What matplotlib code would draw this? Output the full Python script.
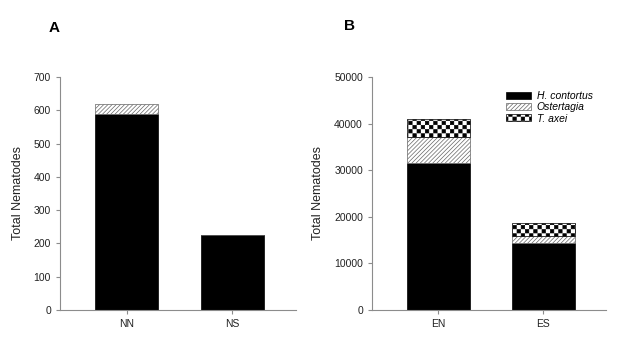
import warnings
import numpy as np
import matplotlib
matplotlib.use('Agg')
import matplotlib.pyplot as plt
from matplotlib import hatch as mhatch
from matplotlib.path import Path

warnings.filterwarnings('ignore')

# data
groups_a = ['NN', 'NS']
h_contortus_a = [590, 225]
ostertagia_a = [30, 0]

groups_b = ['EN', 'ES']
h_contortus_b = [31500, 14300]
ostertagia_b = [5700, 1500]
t_axei_b = [3700, 2900]

labels = ['H. contortus', 'Ostertagia', 'T. axei']


# checkerboard hatch ('c'), matplotlib has none built in
class CheckerHatch(mhatch.HatchPatternBase):
    def __init__(self, hatch, density):
        self.m = int(hatch.count('c') * density * 2)
        self.cells = [(i, j) for i in range(self.m) for j in range(self.m)
                      if (i + j) % 2 == 0]
        self.num_vertices = len(self.cells) * 5

    def set_vertices_and_codes(self, vertices, codes):
        s = 1.0 / self.m
        e = 0.09 * s  # shrink a bit, the stroke grows them again
        sq = np.array([[e, e], [s - e, e], [s - e, s - e], [e, s - e], [e, e]])
        k = 0
        for i, j in self.cells:
            vertices[k:k + 5] = sq + [i * s, j * s]
            codes[k:k + 5] = [Path.MOVETO, Path.LINETO, Path.LINETO,
                              Path.LINETO, Path.CLOSEPOLY]
            k += 5


mhatch._hatch_types.append(CheckerHatch)

plt.rcParams['font.family'] = ['Liberation Sans', 'DejaVu Sans']
plt.rcParams['hatch.linewidth'] = 0.5

gray = '#8c8c8c'
hgray = '#666666'
fig = plt.figure(figsize=(6.21, 3.48), dpi=100)
ax1 = fig.add_axes([0.0966, 0.109, 0.380, 0.670])
ax2 = fig.add_axes([0.599, 0.109, 0.377, 0.670])

w = 0.6
x = np.arange(2)

ax1.bar(x, h_contortus_a, w, color='black', edgecolor='black', lw=0.5)
ax1.bar(x, ostertagia_a, w, bottom=h_contortus_a, color='white',
        edgecolor=hgray, hatch='////////', lw=0.5)

ax2.bar(x, h_contortus_b, w, color='black', edgecolor='black', lw=0.5,
        label=labels[0])
ax2.bar(x, ostertagia_b, w, bottom=h_contortus_b, color='white',
        edgecolor=hgray, hatch='////////', lw=0.5, label=labels[1])
bottom2 = np.array(h_contortus_b) + np.array(ostertagia_b)
ax2.bar(x, t_axei_b, w, bottom=bottom2, color='white', edgecolor='black',
        hatch='cc', lw=0.5, label=labels[2])

for ax, names, top, step in [(ax1, groups_a, 700, 100),
                             (ax2, groups_b, 50000, 10000)]:
    ax.set_xlim(-0.63, 1.6)
    ax.set_ylim(0, top)
    ax.set_yticks(np.arange(0, top + 1, step))
    ax.set_xticks(x)
    ax.set_xticklabels(names)
    for s in ['top', 'right']:
        ax.spines[s].set_visible(False)
    for s in ['left', 'bottom']:
        ax.spines[s].set_color(gray)
        ax.spines[s].set_linewidth(0.8)
    ax.tick_params(axis='both', colors=gray, labelcolor='#222222',
                   labelsize=7.5, length=3, width=0.8)
    ax.set_ylabel('Total Nematodes', fontsize=9, color='#222222')

ax1.yaxis.set_label_coords(-0.153, 0.5)
ax2.yaxis.set_label_coords(-0.205, 0.5)

leg = ax2.legend(loc='upper left', bbox_to_anchor=(506 / 621, 1 - 91 / 348),
                 bbox_transform=fig.transFigure, frameon=False, fontsize=7.5,
                 handlelength=2.4, handleheight=0.65, labelspacing=0.12,
                 borderpad=0, borderaxespad=0, handletextpad=0.55)
for t in leg.get_texts():
    t.set_fontstyle('italic')

fig.text(54 / 621, 1 - 28 / 348, 'A', fontsize=11, fontweight='bold',
         ha='center', va='center')
fig.text(350 / 621, 1 - 26 / 348, 'B', fontsize=11, fontweight='bold',
         ha='center', va='center')

fig.savefig('out.png', dpi=100)
